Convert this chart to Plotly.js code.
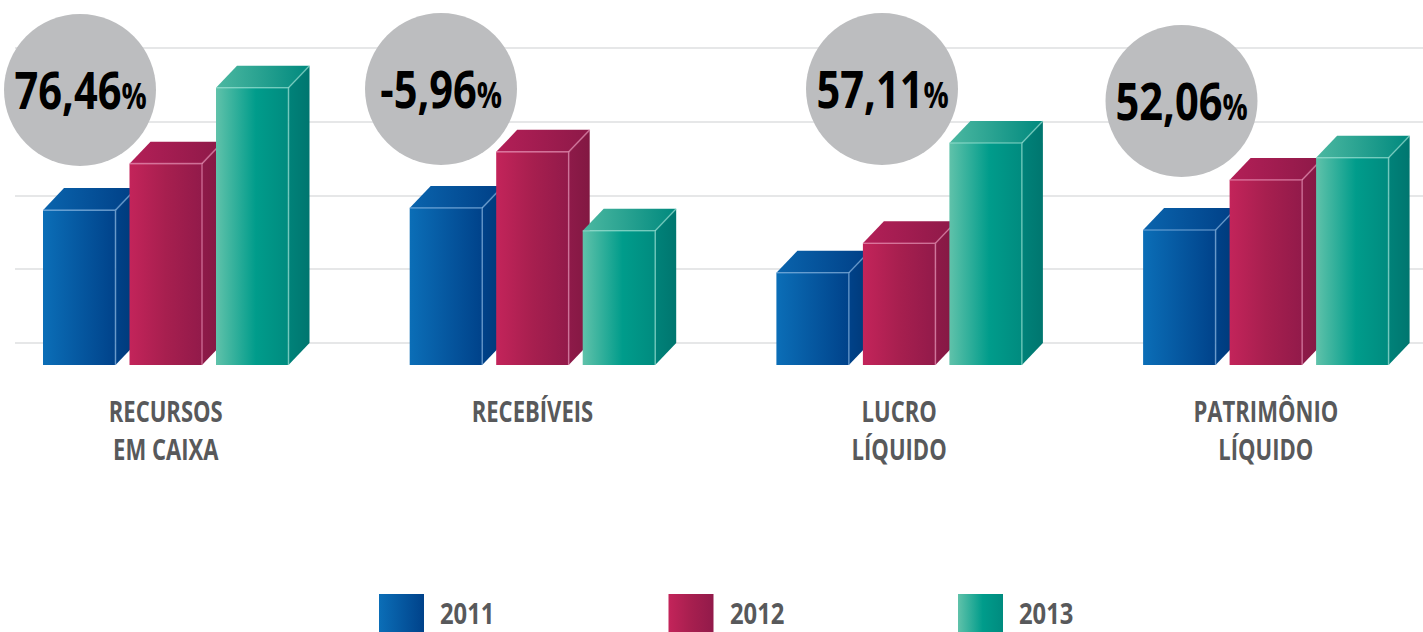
<!DOCTYPE html>
<html>
<head>
<meta charset="utf-8">
<script src="https://cdn.plot.ly/plotly-3.0.1.min.js"></script>
<style>html,body{margin:0;padding:0;background:#fff;}#chart{width:1423px;height:632px;}</style>
</head>
<body>
<div id="chart"></div>
<script>
// ---- data ----
const categories = ['RECURSOS<br>EM CAIXA', 'RECEBÍVEIS', 'LUCRO<br>LÍQUIDO', 'PATRIMÔNIO<br>LÍQUIDO'];
const years = ['2011', '2012', '2013'];
const values2011 = [210, 213, 125, 183];
const values2012 = [273, 289, 165, 251];
const values2013 = [376, 182, 301, 281];
const changeLabels = ['76,46', '-5,96', '57,11', '52,06'];

// ---- layout constants ----
const W = 1423, H = 632;
const FONT = '"Open Sans", Roboto, "Liberation Sans", sans-serif';
const groupPx = 366.7;           // px per group unit
const yPxPerUnit = 0.7375;       // px per value unit
const baselinePx = 365;
const leftGridPx = 15;
const barPitch = 86.5 / groupPx;
const barHalf = 72.5 / 2 / groupPx;
const depthX = 21 / groupPx;
const depthY = 22 / yPxPerUnit;
const firstCenterPx = 165.75;

const styles = [
  { front: [[0, '#0b6eb7'], [1, '#00428a']], top: [[0, '#0a64ad'], [1, '#003f86']], side: [[0, '#004289'], [1, '#003877']] },
  { front: [[0, '#c3245a'], [0.5, '#a71f4f'], [1, '#921a4a']], top: [[0, '#b31f57'], [1, '#8d1948']], side: [[0, '#8e1a49'], [1, '#821842']] },
  { front: [[0, '#60c2aa'], [0.55, '#009c8b'], [1, '#008b7f']], top: [[0, '#4cb8a1'], [1, '#00897e']], side: [[0, '#008279'], [1, '#00766f']] }
];
const highlight = ['rgba(140,185,230,0.55)', 'rgba(235,150,185,0.55)', 'rgba(160,230,215,0.55)'];

const circlePx = [[80, 90], [441, 89], [882, 89], [1181.5, 101]];
const circleR = 76;

const series = [values2011, values2012, values2013];
const traces = [];

function poly(xs, ys, scale, axes) {
  const t = {
    type: 'scatter', mode: 'lines', x: xs, y: ys, fill: 'toself',
    line: { width: 0, color: 'rgba(0,0,0,0)' },
    fillgradient: { type: 'horizontal', colorscale: scale },
    hoverinfo: 'skip', showlegend: false
  };
  if (axes) { t.xaxis = axes[0]; t.yaxis = axes[1]; }
  return t;
}

for (let i = 0; i < categories.length; i++) {
  for (let j = 0; j < series.length; j++) {
    const v = series[j][i];
    const c = i + (j - 1) * barPitch;
    const x0 = c - barHalf, x1 = c + barHalf;
    traces.push(poly([x1, x1 + depthX, x1 + depthX, x1, x1], [0, depthY, v + depthY, v, 0], styles[j].side));
    traces.push(poly([x0, x0 + depthX, x1 + depthX, x1, x0], [v, v + depthY, v + depthY, v, v], styles[j].top));
    traces.push(poly([x0, x1, x1, x0, x0], [0, 0, v, v, 0], styles[j].front));
    traces.push({
      type: 'scatter', mode: 'lines',
      x: [x0, x1, x1, null, x1, x1 + depthX],
      y: [v, v, 0, null, v, v + depthY],
      line: { color: highlight[j], width: 1.6 },
      hoverinfo: 'skip', showlegend: false
    });
  }
}

// legend squares (own axes)
const legendPitchPx = 289.5, legendStartPx = 379, legendSqPx = 45;
const legW = legendSqPx / legendPitchPx;
for (let k = 0; k < years.length; k++) {
  traces.push(poly([k, k + legW, k + legW, k, k], [0, 0, 1, 1, 0], styles[k].front, ['x2', 'y2']));
}

const shapes = circlePx.map(p => ({
  type: 'circle', xref: 'paper', yref: 'paper', xsizemode: 'pixel', ysizemode: 'pixel',
  xanchor: p[0] / W, yanchor: 1 - p[1] / H,
  x0: -circleR, x1: circleR, y0: -circleR, y1: circleR,
  fillcolor: '#bcbdbf', line: { width: 0 }, layer: 'above'
}));

const annotations = circlePx.map((p, i) => ({
  xref: 'paper', yref: 'paper', x: p[0] / W, y: 1 - (p[1] - 1) / H,
  xanchor: 'center', yanchor: 'middle', showarrow: false, align: 'center',
  text: changeLabels[i] + '<span style="font-size:35px">%</span>',
  font: { family: FONT, size: 52, color: '#000000', weight: 'bold' },
  name: 'pct'
}));

years.forEach((yr, k) => {
  annotations.push({
    xref: 'x2', yref: 'y2', x: k + legW + 14 / legendPitchPx, y: 0.5, yshift: 1,
    xanchor: 'left', yanchor: 'middle', showarrow: false, text: yr, align: 'left',
    font: { family: FONT, size: 29, color: '#58595b', weight: 'bold' },
    name: 'leg'
  });
});

const layout = {
  width: W, height: H, autosize: false,
  margin: { l: 0, r: 0, t: 0, b: 0, pad: 0 },
  paper_bgcolor: '#ffffff', plot_bgcolor: 'rgba(0,0,0,0)',
  showlegend: false,
  xaxis: {
    domain: [leftGridPx / W, 1],
    range: [-(firstCenterPx - leftGridPx) / groupPx, (W - firstCenterPx) / groupPx],
    tickmode: 'array', tickvals: categories.map((_, i) => i), ticktext: categories,
    tickfont: { family: FONT, size: 29, color: '#58595b', weight: 'bold' },
    ticks: '', showgrid: false, zeroline: false, showline: false,
    ticklabelstandoff: 27, fixedrange: true
  },
  yaxis: {
    domain: [(H - baselinePx) / H, 1],
    range: [0, baselinePx / yPxPerUnit],
    tick0: depthY, dtick: 100, showticklabels: false, ticks: '',
    showgrid: true, gridcolor: '#e6e7e8', gridwidth: 2,
    zeroline: false, showline: false, fixedrange: true
  },
  xaxis2: {
    domain: [0, 1], anchor: 'y2', visible: false, fixedrange: true,
    range: [-legendStartPx / legendPitchPx, (W - legendStartPx) / legendPitchPx]
  },
  yaxis2: {
    domain: [0, 38 / H], anchor: 'x2', visible: false, fixedrange: true, range: [0, 1]
  },
  shapes: shapes,
  annotations: annotations
};

// condense text horizontally (the reference uses a condensed typeface)
function condenseLines(el, f) {
  const lines = el.querySelectorAll('tspan.line');
  const targets = lines.length ? Array.from(lines) : [el];
  targets.forEach(t => {
    const L = t.getComputedTextLength();
    if (L > 0) {
      t.setAttribute('textLength', (L * f).toFixed(2));
      t.setAttribute('lengthAdjust', 'spacingAndGlyphs');
    }
  });
}
function squeeze(t, f) {
  const bb = t.getBBox();
  const ox = bb.x + bb.width / 2;
  const prev = t.getAttribute('transform') || '';
  t.setAttribute('transform', prev + ' translate(' + ox + ',0) scale(' + f + ',1) translate(' + (-ox) + ',0)');
}

Plotly.newPlot('chart', traces, layout, { staticPlot: true, displayModeBar: false }).then(gd => {
  gd.querySelectorAll('.xtick text').forEach(t => condenseLines(t, 0.76));
  gd.querySelectorAll('.annotation').forEach(g => {
    const idx = +g.getAttribute('data-index');
    const t = g.querySelector('text');
    const kind = annotations[idx] && annotations[idx].name;
    if (!t) return;
    if (kind === 'leg') condenseLines(t, 0.82);
    else squeeze(t, 0.8);
  });
});
</script>
</body>
</html>
